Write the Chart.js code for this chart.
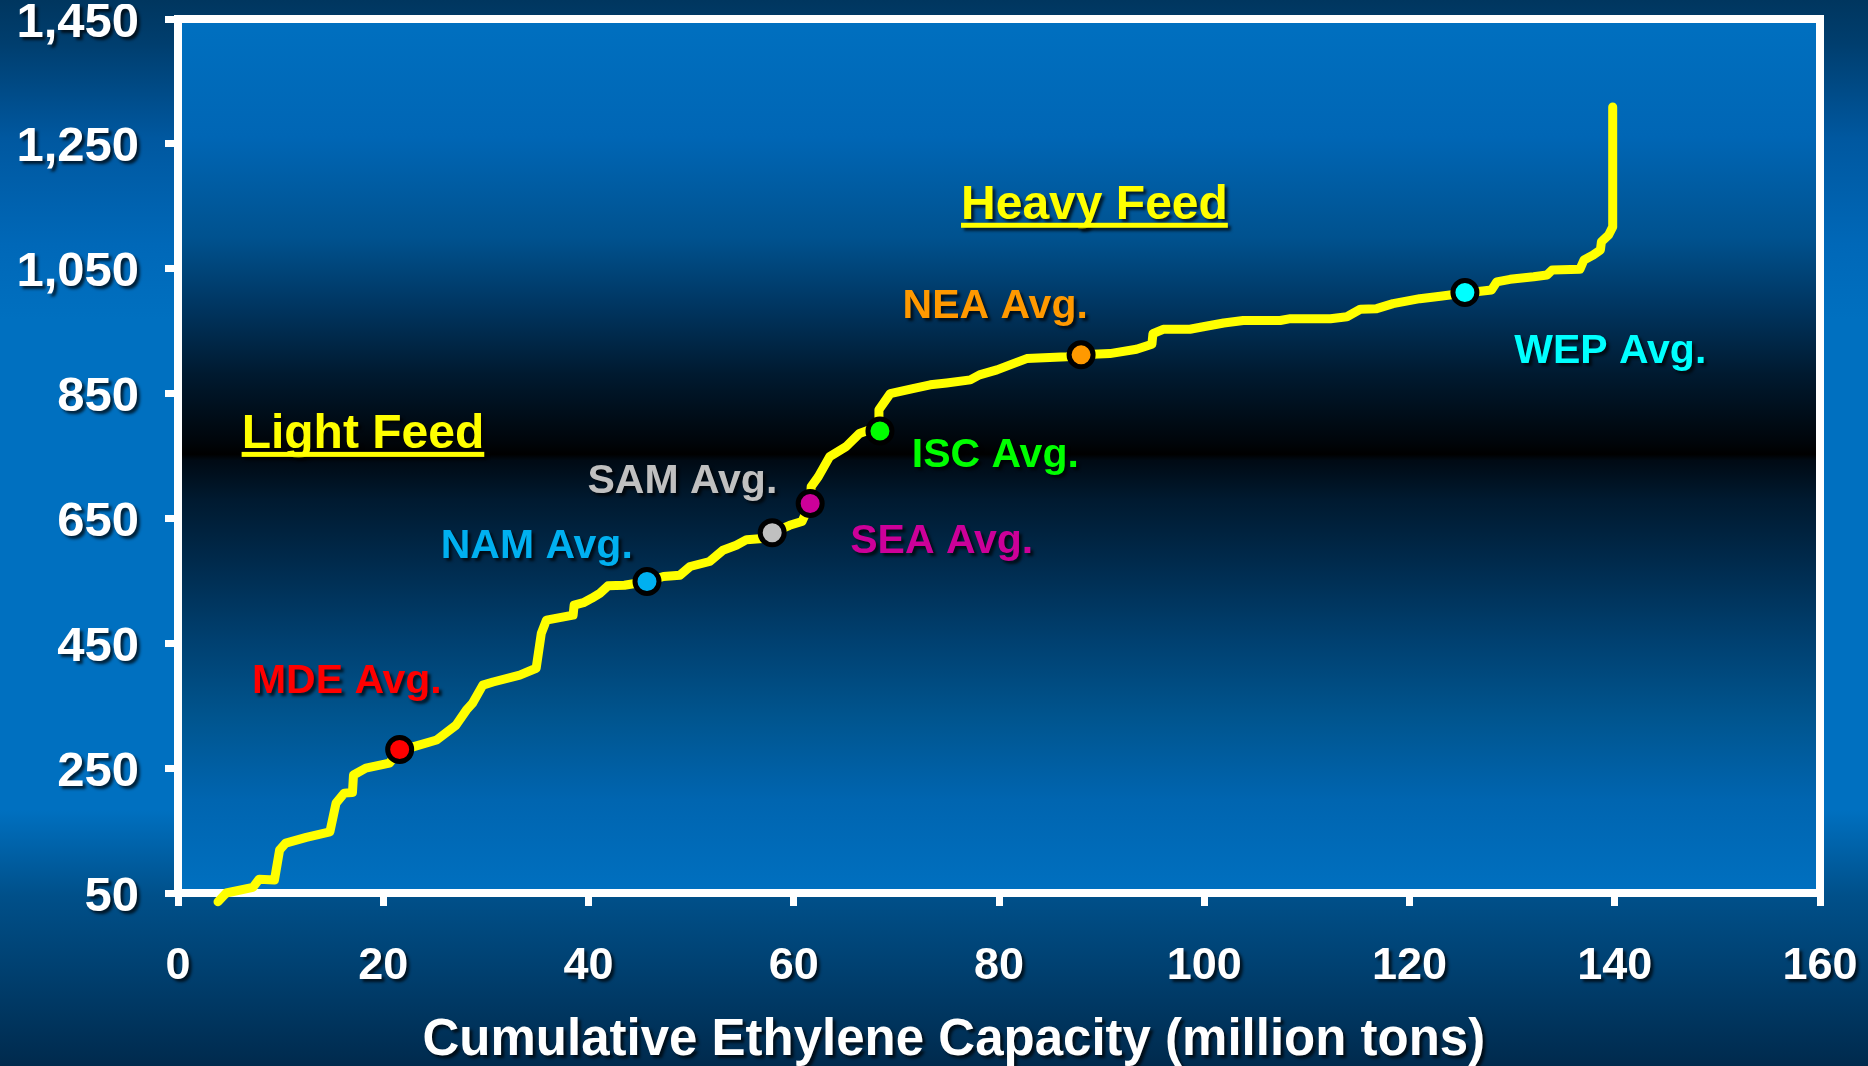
<!DOCTYPE html>
<html><head><meta charset="utf-8">
<script src="https://cdn.jsdelivr.net/npm/chart.js@4.4.0/dist/chart.umd.min.js"></script>
<style>
html,body{margin:0;padding:0;}
body{width:1868px;height:1066px;overflow:hidden;
background:linear-gradient(to bottom,#00365f 0%,#003e6e 4%,#0058a0 13%,#0068b8 23%,#0070c0 30%,#0070c0 76%,#00508a 84%,#004070 91%,#002a4d 100%);}
canvas{display:block;}
</style></head><body>
<canvas id="c" width="1868" height="1066"></canvas>
<script>
// ---- data ----
const capacity = [3.9,4.7,7.3,7.9,9.4,9.9,10.5,12.5,14.8,15.4,16.2,17.0,17.1,18.3,20.6,21.6,22.9,25.2,27.1,28.1,28.7,29.7,30.7,33.3,34.9,35.4,35.9,38.5,38.6,39.5,40.3,41.1,41.9,43.5,45.7,47.3,48.9,49.9,51.8,53.1,54.4,55.4,57.0,57.9,59.6,60.8,61.6,61.7,62.4,63.5,65.1,66.4,67.4,68.3,68.3,69.4,71.6,73.3,74.9,77.2,78.1,79.8,81.4,82.7,86.6,88.0,90.8,93.4,94.9,95.0,96.0,98.6,99.9,101.9,103.8,107.4,108.4,112.3,113.9,115.2,116.8,118.4,121.0,123.0,125.4,128.0,128.5,129.8,132.1,133.4,133.9,136.6,137.0,137.9,138.6,138.7,139.4,139.8,139.8];
const cost = [36,50,59,72,71,119,130,139,148,194,210,211,239,250,258,279,284,295,319,343,354,383,388,399,410,466,487,495,511,515,522,530,542,543,549,557,559,573,581,599,607,616,618,627,639,645,674,701,717,749,765,786,792,795,824,850,858,864,867,872,880,888,898,906,909,912,914,921,929,946,953,953,957,963,967,967,970,970,973,985,986,994,1002,1006,1011,1016,1029,1033,1037,1040,1048,1049,1064,1072,1080,1093,1104,1117,1309];
const avgNames = ['MDE Avg.','NAM Avg.','SAM Avg.','SEA Avg.','ISC Avg.','NEA Avg.','WEP Avg.'];
const avgCapacity = [21.6,45.7,57.9,61.6,68.4,88.0,125.4];
const avgCost = [280,549,627,674,790,912,1012];
const xTicks = [0,20,40,60,80,100,120,140,160];
const yTicks = [50,250,450,650,850,1050,1250,1450];
const xTitle = 'Cumulative Ethylene Capacity (million tons)';
const feedLabels = ['Light Feed','Heavy Feed'];

// ---- styles / placement ----
const avgColors = ['#ff0000','#00b0f0','#c0c0c0','#cc0099','#00ff00','#ff9900','#00ffff'];
const avgLabelAnchor = [[7.2,370],[25.6,587],[39.9,691],[65.5,595],[71.5,732],[70.6,971],[130.2,899]];
const feedAnchor = [[6.2,763],[76.3,1130]];
const FONT = '"Liberation Sans", Arial, Helvetica, sans-serif';

const plotBg = [[0,'#0070c0'],[0.134,'#0066b5'],[0.25,'#00528f'],[0.33,'#003560'],[0.406,'#001a30'],[0.484,'#00050a'],[0.498,'#000000'],[0.505,'#000a14'],[0.55,'#001a30'],[0.62,'#002a4c'],[0.71,'#004070'],[0.80,'#00558f'],[0.894,'#0065b0'],[1,'#0070c0']];

function shadow(ctx){ctx.shadowColor='rgba(0,0,0,0.7)';ctx.shadowOffsetX=3;ctx.shadowOffsetY=3;ctx.shadowBlur=3;}

const deco = {
  id:'deco',
  beforeDraw(chart){
    const {ctx, chartArea:a} = chart;
    const g = ctx.createLinearGradient(0,a.top,0,a.bottom);
    plotBg.forEach(s=>g.addColorStop(s[0],s[1]));
    ctx.save(); ctx.fillStyle=g; ctx.fillRect(a.left,a.top,a.right-a.left,a.bottom-a.top); ctx.restore();
    Object.values(chart.scales).forEach(s=>{
      if(!s._shPatched){
        const orig = s.drawLabels.bind(s);
        const dy = s.axis==='y' ? 4 : 0;
        s.drawLabels = function(ca){ctx.save();shadow(ctx);ctx.translate(0,dy);orig(ca);ctx.restore();};
        s._shPatched = true;
      }
    });
  },
  beforeDatasetsDraw(chart){
    const {ctx, chartArea:a} = chart;
    ctx.save(); ctx.strokeStyle='#ffffff'; ctx.lineWidth=8;
    ctx.strokeRect(a.left,a.top,a.right-a.left,a.bottom-a.top); ctx.restore();
  },
  afterDatasetsDraw(chart){
    const {ctx} = chart; const xs=chart.scales.x, ys=chart.scales.y;
    ctx.save();
    ctx.textAlign='left'; ctx.textBaseline='alphabetic';
    ctx.font='bold 41px '+FONT;
    avgNames.forEach((t,i)=>{
      ctx.save(); shadow(ctx); ctx.fillStyle=avgColors[i];
      ctx.fillText(t, xs.getPixelForValue(avgLabelAnchor[i][0]), ys.getPixelForValue(avgLabelAnchor[i][1]));
      ctx.restore();
    });
    ctx.font='bold 48px '+FONT;
    feedLabels.forEach((t,i)=>{
      const x=xs.getPixelForValue(feedAnchor[i][0]), y=ys.getPixelForValue(feedAnchor[i][1]);
      const w=ctx.measureText(t).width;
      ctx.save(); shadow(ctx); ctx.fillStyle='#ffff00';
      ctx.fillText(t,x,y); ctx.fillRect(x,y+4,w,5); ctx.restore();
    });
    ctx.font='bold 51px '+FONT; ctx.textAlign='center';
    ctx.save(); shadow(ctx); ctx.fillStyle='#ffffff';
    ctx.fillText(xTitle, xs.getPixelForValue(75.6), chart.height-11); ctx.restore();
    ctx.restore();
  }
};

new Chart(document.getElementById('c'), {
  type:'scatter',
  data:{datasets:[
    {label:'avg', data: avgCapacity.map((x,i)=>({x, y:avgCost[i]})),
     pointRadius:12, pointBackgroundColor:avgColors, pointBorderColor:'#000000', pointBorderWidth:5, order:0, clip:false},
    {label:'curve', data: capacity.map((x,i)=>({x, y:cost[i]})), showLine:true, pointRadius:0,
     borderColor:'#ffff00', borderWidth:9, borderJoinStyle:'round', borderCapStyle:'round', tension:0, order:1, clip:false}
  ]},
  options:{
    responsive:false, devicePixelRatio:1, animation:false,
    layout:{padding:{left:0,right:48,top:19,bottom:0}},
    plugins:{legend:{display:false}, tooltip:{enabled:false}},
    scales:{
      x:{type:'linear', min:0, max:160,
        afterBuildTicks:s=>{s.ticks=xTicks.map(v=>({value:v}));},
        afterFit:s=>{s.height=173; s.paddingLeft=0; s.paddingRight=0;},
        grid:{drawOnChartArea:false, drawTicks:true, tickLength:13, tickWidth:7, tickColor:'#ffffff'},
        border:{display:false},
        ticks:{color:'#ffffff', font:{family:FONT, size:45, weight:'bold', lineHeight:1.2}, padding:34, maxRotation:0, autoSkip:false}
      },
      y:{type:'linear', min:50, max:1450,
        afterBuildTicks:s=>{s.ticks=yTicks.map(v=>({value:v}));},
        afterFit:s=>{s.width=178; s.paddingTop=0; s.paddingBottom=0;},
        grid:{drawOnChartArea:false, drawTicks:true, tickLength:13, tickWidth:7, tickColor:'#ffffff'},
        border:{display:false},
        ticks:{color:'#ffffff', font:{family:FONT, size:49, weight:'bold'}, padding:26, autoSkip:false,
          callback:v=>Number(v).toLocaleString('en-US')}
      }
    }
  },
  plugins:[deco]
});
</script>
</body></html>
